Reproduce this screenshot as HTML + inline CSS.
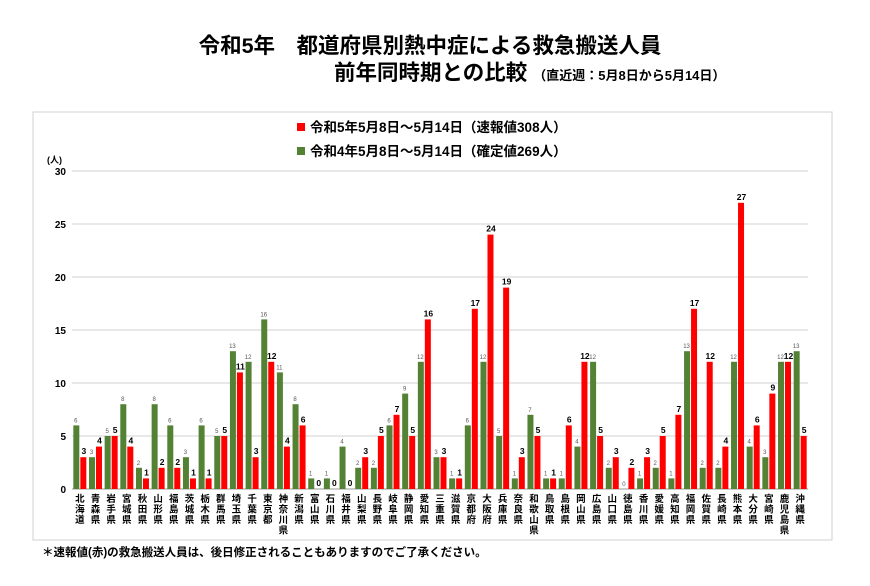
<!DOCTYPE html>
<html><head><meta charset="utf-8">
<style>
body{margin:0;background:#fff;width:870px;height:581px;overflow:hidden;font-family:"Liberation Sans","Noto Sans CJK JP",sans-serif;}
svg text{font-family:"Liberation Sans","Noto Sans CJK JP",sans-serif;}
</style></head><body>
<svg id="c" width="870" height="581">
<text x="430" y="53" text-anchor="middle" font-size="21.5" font-weight="bold">令和5年　都道府県別熱中症による救急搬送人員</text>
<text x="334" y="80" font-size="21.5" font-weight="bold">前年同時期との比較 <tspan font-size="13">（直近週：5月8日から5月14日）</tspan></text>
<rect x="33" y="112" width="799" height="428" fill="none" stroke="#d0d0d0"/>
<rect x="297" y="123" width="8" height="8" fill="#ff0000"/>
<text x="310" y="132" font-size="13.5" font-weight="bold">令和5年5月8日～5月14日（速報値308人）</text>
<rect x="297" y="147" width="8" height="8" fill="#548235"/>
<text x="310" y="156" font-size="13.5" font-weight="bold">令和4年5月8日～5月14日（確定値269人）</text>
<text x="47" y="163" font-size="9" font-weight="bold">(人)</text>
<g id="g"></g>
<text x="42" y="556" font-size="11.5" font-weight="bold">＊速報値(赤)の救急搬送人員は、後日修正されることもありますのでご了承ください。</text>
</svg>
<script>
const prefs=["北海道","青森県","岩手県","宮城県","秋田県","山形県","福島県","茨城県","栃木県","群馬県","埼玉県","千葉県","東京都","神奈川県","新潟県","富山県","石川県","福井県","山梨県","長野県","岐阜県","静岡県","愛知県","三重県","滋賀県","京都府","大阪府","兵庫県","奈良県","和歌山県","鳥取県","島根県","岡山県","広島県","山口県","徳島県","香川県","愛媛県","高知県","福岡県","佐賀県","長崎県","熊本県","大分県","宮崎県","鹿児島県","沖縄県"];
const r4=[6,3,5,8,2,8,6,3,6,5,13,12,16,11,8,1,1,4,2,2,6,9,12,3,1,6,12,5,1,7,1,1,4,12,2,0,1,2,1,13,2,2,12,4,3,12,13];
const r5=[3,4,5,4,1,2,2,1,1,5,11,3,12,4,6,0,0,0,3,5,7,5,16,3,1,17,24,19,3,5,1,6,12,5,3,2,3,5,7,17,12,4,27,6,9,12,5];
const yTicks=[0,5,10,15,20,25,30];
const NS="http://www.w3.org/2000/svg";
const g=document.getElementById('g');
const x0=72,x1=808,y0=489,y30=171;
const y=v=>y0-(y0-y30)*v/30;
const slot=(x1-x0)/prefs.length;
const gx=i=>x0+i*slot;
function mk(t,a){const e=document.createElementNS(NS,t);for(const k in a)e.setAttribute(k,a[k]);g.appendChild(e);return e;}
yTicks.forEach(t=>{
 const l=mk('line',{x1:x0,x2:x1,y1:y(t),y2:y(t),stroke:t===0?'#999':'#d0d0d0','stroke-width':1});
 
 
 const tx=mk('text',{x:x0-6,y:y(t)+4,'text-anchor':'end','font-size':10,'font-weight':'bold'});
 tx.textContent=t;
 
 
});
const bw=6;
prefs.forEach((p,i)=>{
 const cx=gx(i)+slot/2;
 const gb=mk('rect',{x:cx-bw-0.5,y:y(r4[i]),width:bw,height:y0-y(r4[i]),fill:'#548235'});
 
 
 const rb=mk('rect',{x:cx+0.5,y:y(r5[i]),width:bw,height:y0-y(r5[i]),fill:'#ff0000'});
 
 
 const gl=mk('text',{x:cx-bw/2-1,y:y(r4[i])-3,'text-anchor':'middle','font-size':6,fill:'#555'});
 gl.textContent=r4[i];
 
 
 const rl=mk('text',{x:cx+bw/2+1,y:y(r5[i])-3,'text-anchor':'middle','font-size':8.5,'font-weight':'bold'});
 rl.textContent=r5[i];
 
 
 const ch=[...p];
 const pt=mk('text',{x:cx,y:y0+13,'text-anchor':'middle','font-size':9.5,'font-weight':'bold'});
 ch.forEach((c,k)=>{const s=document.createElementNS(NS,'tspan');s.setAttribute('x',cx);s.setAttribute('y',y0+13+k*10.5);s.textContent=c;pt.appendChild(s);});
 
 
});
</script>
</body></html>
